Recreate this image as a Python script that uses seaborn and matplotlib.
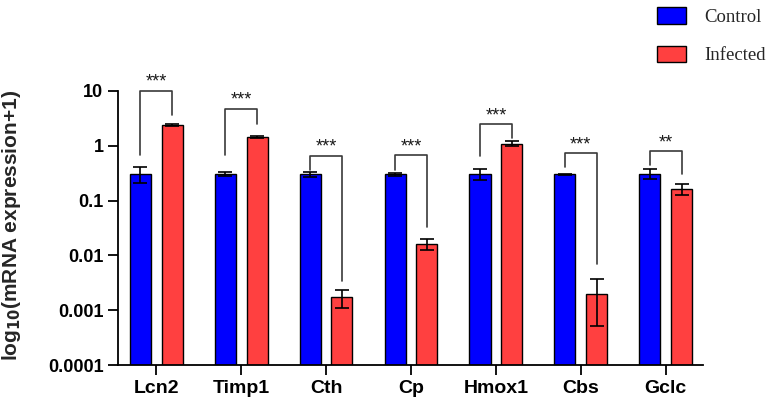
import matplotlib
matplotlib.use("Agg")
import matplotlib.pyplot as plt
from matplotlib.patches import Patch
import seaborn as sns
import numpy as np
import pandas as pd

genes = ["Lcn2", "Timp1", "Cth", "Cp", "Hmox1", "Cbs", "Gclc"]
groups = ["Control", "Infected"]
control_mean = [0.31, 0.30, 0.30, 0.30, 0.30, 0.30, 0.30]
control_low = [0.21, 0.28, 0.27, 0.28, 0.234, 0.29, 0.244]
control_high = [0.41, 0.33, 0.33, 0.32, 0.385, 0.31, 0.373]
infected_mean = [2.37, 1.43, 0.00173, 0.0159, 1.10, 0.0020, 0.160]
infected_low = [2.30, 1.37, 0.0011, 0.0125, 1.00, 0.00051, 0.129]
infected_high = [2.45, 1.50, 0.00239, 0.0199, 1.24, 0.00365, 0.198]
significance = ["***", "***", "***", "***", "***", "***", "**"]
bracket_top = [10.1, 4.73, 0.66, 0.67, 2.47, 0.725, 0.80]
bracket_left = [0.667, 0.667, 0.357, 0.357, 0.65, 0.413, 0.442]
bracket_right = [3.67, 2.47, 0.0034, 0.033, 1.41, 0.0069, 0.311]
ytick_values = [1e1, 1e0, 1e-1, 1e-2, 1e-3, 1e-4]
ytick_labels = ["10", "1", "0.1", "0.01", "0.001", "0.0001"]

colors = {"Control": "#0000FF", "Infected": "#FF4040"}

df = pd.DataFrame({
    "gene": genes * 2,
    "group": ["Control"] * len(genes) + ["Infected"] * len(genes),
    "value": control_mean + infected_mean,
})

sns.set_style("ticks")
plt.rcParams["font.family"] = ["Liberation Sans", "DejaVu Sans"]

fig = plt.figure(figsize=(7.71, 4.08), dpi=100)
ax = fig.add_axes([0.153, 0.105, 0.759, 0.672])

sns.barplot(data=df, x="gene", y="value", hue="group", order=genes,
            hue_order=groups, palette=colors, saturation=1, width=0.75, gap=0.34,
            edgecolor="black", linewidth=1.0, errorbar=None, legend=False, ax=ax)
ax.set_yscale("log")
ax.set_ylim(1e-4, 10)
ax.set_xlim(-0.45, 6.44)

means = {"Control": (control_mean, control_low, control_high),
         "Infected": (infected_mean, infected_low, infected_high)}
xs = {}
for cont, g in zip(ax.containers, groups):
    xc = [p.get_x() + p.get_width() / 2 for p in cont.patches]
    xs[g] = xc
    m, lo, hi = means[g]
    m = np.array(m); lo = np.array(lo); hi = np.array(hi)
    ax.errorbar(xc, m, yerr=[m - lo, hi - m], fmt="none", ecolor="black",
                elinewidth=1.2, capsize=4.7, capthick=1.2, zorder=5)

for i in range(len(genes)):
    xl = xs["Control"][i]
    xr = xs["Infected"][i]
    ax.plot([xl, xl, xr, xr], [bracket_left[i], bracket_top[i], bracket_top[i], bracket_right[i]],
            color="#3a3a3a", lw=1.2, clip_on=False, zorder=6)
    ax.annotate(significance[i], xy=((xl + xr) / 2, bracket_top[i]), xytext=(0, 6),
                textcoords="offset points", ha="center", va="center",
                fontsize=13, color="#1a1a1a", annotation_clip=False)

ax.set_yticks(ytick_values)
ax.set_yticklabels(ytick_labels)
ax.yaxis.set_minor_locator(matplotlib.ticker.NullLocator())
ax.tick_params(axis="both", direction="out", length=7, width=1.3, colors="black")
for lab in ax.get_yticklabels():
    lab.set_fontweight("bold"); lab.set_fontsize(13)
for lab in ax.get_xticklabels():
    lab.set_fontweight("bold"); lab.set_fontsize(14)
ax.set_xlabel("")
ax.set_ylabel(r"log$_{\mathbf{10}}$(mRNA expression+1)", fontsize=15, fontweight="bold", labelpad=6)
ax.yaxis.set_label_coords(-0.163, 0.51)
sns.despine(ax=ax)
for s in ["left", "bottom"]:
    ax.spines[s].set_linewidth(1.3)
    ax.spines[s].set_color("black")

handles = [Patch(facecolor=colors[g], edgecolor="black", linewidth=1.0, label=g) for g in groups]
fig.legend(handles=handles, loc="upper right", bbox_to_anchor=(1.008, 1.01), frameon=False,
           prop={"family": "Liberation Serif", "size": 13.5}, handlelength=1.55,
           handleheight=1.0, labelspacing=1.05, handletextpad=1.0, borderaxespad=0.2)

fig.savefig("out.png", dpi=100)
